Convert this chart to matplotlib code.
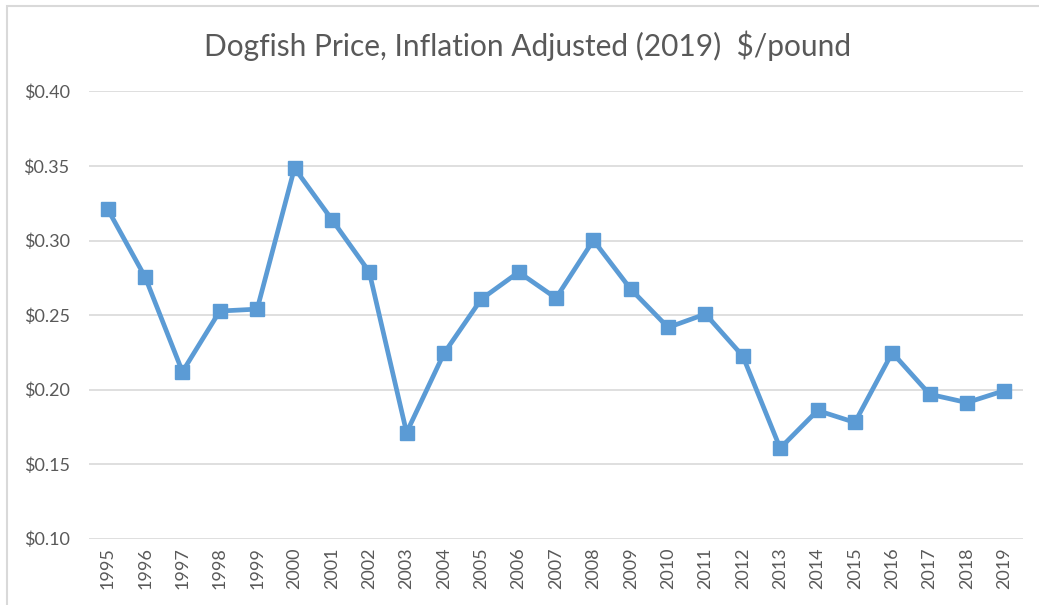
import matplotlib
matplotlib.use("Agg")
import matplotlib.pyplot as plt
from matplotlib.patches import Rectangle
from matplotlib.ticker import FuncFormatter, MultipleLocator

years = [str(y) for y in range(1995, 2020)]
price = [0.321, 0.2756, 0.212, 0.2527, 0.254, 0.3486, 0.3141, 0.279, 0.1712,
         0.2243, 0.2607, 0.2788, 0.2614, 0.3002, 0.2674, 0.2417, 0.2507,
         0.2225, 0.1607, 0.186, 0.178, 0.2248, 0.1969, 0.1913, 0.1993]

plt.rcParams['font.family'] = ['Lato', 'DejaVu Sans']
txt = '#595959'

fig = plt.figure(figsize=(10.39, 6.05), dpi=100)
ax = fig.add_axes([0.0857, 0.1096, 0.8989, 0.7392])

x = list(range(len(years)))
ax.plot(x, price, color='#5B9BD5', lw=3.4, marker='s', ms=10, zorder=3)

ax.set_xlim(-0.5, len(years) - 0.5)
ax.set_ylim(0.10, 0.40)
ax.yaxis.set_major_locator(MultipleLocator(0.05))
ax.yaxis.set_major_formatter(FuncFormatter(lambda v, p: '${:.2f}'.format(v)))
ax.set_xticks(x)
ax.set_xticklabels(years, rotation=90)
ax.grid(axis='y', color='#D9D9D9', lw=1.2)
ax.set_axisbelow(True)
for s in ax.spines.values():
    s.set_visible(False)
ax.tick_params(length=0, colors=txt, labelsize=13)
ax.tick_params(axis='y', pad=14)
ax.tick_params(axis='x', pad=6)

fig.text(0.508, 0.925, 'Dogfish Price, Inflation Adjusted (2019)  $/pound',
         ha='center', va='center', fontsize=21.5, color=txt)

fig.patches.append(Rectangle((0.0067, -0.05), 1.05, 1.04, transform=fig.transFigure,
                             fill=False, ec='#D9D9D9', lw=1.5))

fig.savefig('out.png', dpi=100)
